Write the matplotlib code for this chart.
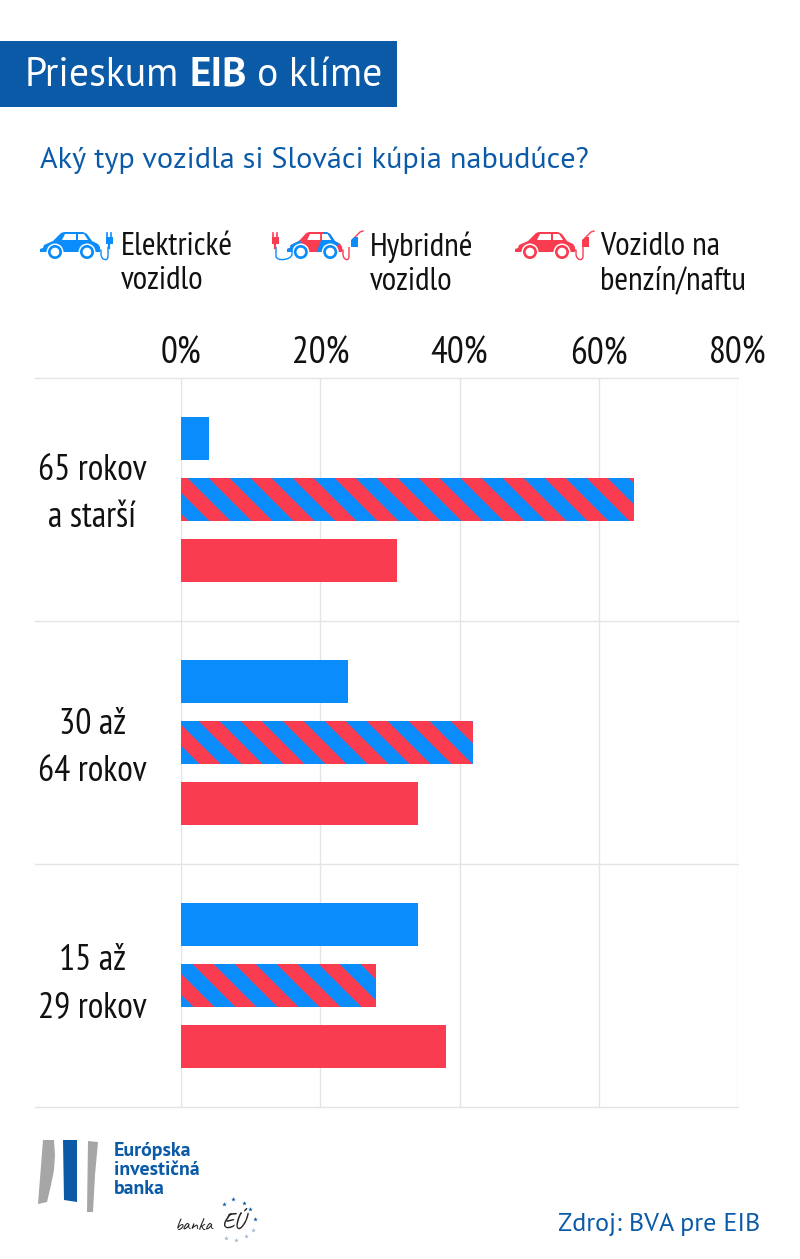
"""Prieskum EIB o klime: what type of car Slovaks will buy next, by age group."""
import matplotlib
matplotlib.use("Agg")
import matplotlib.pyplot as plt
from matplotlib import font_manager as fm
from matplotlib.patches import Circle, PathPatch, Polygon, Rectangle
from matplotlib.path import Path
from matplotlib.transforms import blended_transform_factory

W, H = 800, 1259
BLUE = "#0a8cfa"
RED = "#fa3c50"
EIB = "#0b5aa8"
GRID = "#e4e4e4"
INK = "#111111"

groups = ["65 rokov\na starší", "30 až\n64 rokov", "15 až\n29 rokov"]
electric = [4, 24, 34]
hybrid = [65, 42, 28]
petrol = [31, 34, 38]
ticks = [0, 20, 40, 60, 80]
tick_labels = ["0%", "20%", "40%", "60%", "80%"]
legend_labels = ["Elektrické\nvozidlo", "Hybridné\nvozidlo", "Vozidlo na\nbenzín/naftu"]

CAR = [(0, 252), (0, 249), (3, 248), (4, 245), (13, 241), (21, 233), (24, 232), (43, 232), (47, 234),
       (52, 241), (58, 244), (60, 247), (60, 252)]


def pick_fonts(*names):
    have = {f.name for f in fm.fontManager.ttflist}
    return [n for n in names if n in have] + ["DejaVu Sans"]


NARROW = pick_fonts("PT Sans Narrow", "Roboto Condensed", "Lato")
WIDE = pick_fonts("PT Sans", "Open Sans")
HAND = pick_fonts("Caveat", "Liberation Serif")


def draw_car(ov, x0, color, split=False, scale=1.0):
    pts = [(x0 + x * scale, y) for x, y in CAR]
    body = Polygon(pts, color=color, lw=0)
    ov.add_patch(body)
    if split:
        tail = Polygon([(x0, 256), (x0, 240), (x0 + 13, 240), (x0 + 18, 256)], color=BLUE, lw=0)
        front = Polygon([(x0 + 28, 256), (x0 + 38, 230), (x0 + 56, 240), (x0 + 40, 256)], color=BLUE, lw=0)
        for p in (tail, front):
            ov.add_patch(p)
            p.set_clip_path(body)
    ov.add_patch(Polygon([(x0 + 22 * scale, 240), (x0 + 25 * scale, 234), (x0 + 36 * scale, 234), (x0 + 36 * scale, 240)],
                         color="white", lw=0))
    ov.add_patch(Polygon([(x0 + 38 * scale, 240), (x0 + 38 * scale, 234), (x0 + 44 * scale, 234), (x0 + 48 * scale, 240)],
                         color="white", lw=0))
    for cx in (x0 + 15 * scale, x0 + 47 * scale):
        ov.add_patch(Circle((cx, 252), 8.5, color="white", lw=0))
        ov.add_patch(Circle((cx, 252), 7, color=BLUE if split else color, lw=0))
        ov.add_patch(Circle((cx, 252), 4.3, color="white", lw=0))


def draw_plug(ov, x, y, color):
    ov.add_patch(Rectangle((x - 3.5, y - 4), 7, 7, color=color, lw=0))
    ov.plot([x - 2, x - 2], [y - 8, y - 4], color=color, lw=1.2)
    ov.plot([x + 2, x + 2], [y - 8, y - 4], color=color, lw=1.2)
    ov.plot([x, x], [y + 3, y + 7], color=color, lw=1.6)


def draw_pump(ov, x, y, color):
    ov.add_patch(Polygon([(x - 3, y + 5), (x - 3, y - 2), (x, y - 5), (x + 4, y - 5), (x + 4, y + 5)], color=color, lw=0))
    ov.plot([x + 1, x + 6, x + 9], [y - 5, y - 10, y - 11], color=RED, lw=1)


def draw_cord(ov, x0, x1, y_top, color):
    verts = [(x0, 250), (x0 + 3, 250), (x0 + 3, 254), (x0 + 3, 260), (x1, 262), (x1, 256), (x1, y_top)]
    codes = [Path.MOVETO, Path.LINETO, Path.LINETO, Path.CURVE4, Path.CURVE4, Path.CURVE4, Path.LINETO]
    ov.add_patch(PathPatch(Path(verts, codes), fc="none", ec=color, lw=1))


def main():
    fig = plt.figure(figsize=(W / 100, H / 100), dpi=100, facecolor="white")
    ax = fig.add_axes([181 / W, 1 - 1107 / H, 557 / W, 729 / H])
    ov = fig.add_axes([0, 0, 1, 1], zorder=5)
    ov.set_xlim(0, W)
    ov.set_ylim(H, 0)
    ov.axis("off")

    y = list(range(len(groups)))
    bh, off = 0.181, 0.251
    ax.barh([v - off for v in y], electric, height=bh, color=BLUE, zorder=2)
    hybrid_bars = ax.barh(y, hybrid, height=bh, color=BLUE, zorder=2)
    ax.barh([v + off for v in y], petrol, height=bh, color=RED, zorder=2)

    ax.set_xlim(0, 80)
    ax.set_ylim(2.5, -0.5)
    for s in ax.spines.values():
        s.set_visible(False)
    ax.xaxis.tick_top()
    ax.set_xticks(ticks, tick_labels)
    # the age labels do not sit exactly on the group centres
    ax.set_yticks([v + d for v, d in zip(y, [-0.066, -0.02, -0.05])], groups)
    ax.tick_params(axis="x", length=0, pad=5, labelsize=27, labelcolor=INK)
    ax.tick_params(axis="y", length=0, pad=64, labelsize=25.8, labelcolor=INK)
    for lab in ax.get_xticklabels():
        lab.set_family(NARROW)
    for lab in ax.get_yticklabels():
        lab.set_family(NARROW)
        lab.set_ha("center")
        lab.set_multialignment("center")
        lab.set_linespacing(1.55)
    ax.set_axisbelow(True)
    ax.grid(axis="x", color=GRID, lw=1)

    # row separators run past the axes to the left
    tr = blended_transform_factory(ax.transAxes, ax.transData)
    for v in [-0.5, 0.5, 1.5, 2.5]:
        ax.plot([(35 - 181) / 557, 1], [v, v], transform=tr, color=GRID, lw=1, clip_on=False, zorder=1)

    # diagonal stripes on the hybrid bars, each bar has its own phase
    fig.canvas.draw()
    for bar, phase in zip(hybrid_bars, [-15, -25, -31]):
        ext = bar.get_window_extent()
        top = H - ext.y1
        bottom = H - ext.y0
        hgt = bottom - top
        x = ext.x0 + phase - 42
        while x < ext.x1:
            st = Polygon([(x, top), (x + 21, top), (x + 21 + hgt, bottom), (x + hgt, bottom)],
                         color=RED, lw=0, transform=ov.transData, zorder=3)
            ax.add_patch(st)
            st.set_clip_path(bar)
            x += 42

    # header
    ov.add_patch(Rectangle((0, 41), 397, 66, color=EIB, lw=0))
    ov.text(25, 75, "Prieskum", color="white", fontsize=28.5, family=WIDE, va="center")
    ov.text(190, 75, "EIB", color="white", fontsize=29.5, family=WIDE, weight="bold", va="center")
    ov.text(257, 75, "o klíme", color="white", fontsize=28.5, family=WIDE, va="center")
    ov.text(40, 160, "Aký typ vozidla si Slováci kúpia nabudúce?", color=EIB, fontsize=21.7, family=WIDE, va="center")

    # legend
    for x, lab in zip([121, 370, 600], legend_labels):
        ov.text(x, 264, lab, fontsize=23.8, family=NARROW, color=INK, va="center", linespacing=1.18)
    draw_car(ov, 40, BLUE)
    draw_cord(ov, 98, 108, 247, BLUE)
    draw_plug(ov, 109, 241, BLUE)
    draw_car(ov, 287, RED, split=True, scale=0.92)
    draw_cord(ov, 340, 349, 247, RED)
    draw_cord(ov, 289, 276, 247, BLUE)
    draw_plug(ov, 275, 241, RED)
    draw_pump(ov, 354, 242, BLUE)
    draw_car(ov, 515, RED)
    draw_cord(ov, 573, 583, 247, RED)
    draw_pump(ov, 585, 242, RED)

    # logo and source
    ov.add_patch(Polygon([(43, 1140), (54, 1140), (55, 1155), (54, 1170), (51, 1185), (47, 1202), (38, 1204)],
                         color="#a6a6a6", lw=0))
    ov.add_patch(Polygon([(63, 1140), (77, 1140), (77, 1202), (64, 1200)], color=EIB, lw=0))
    ov.add_patch(Polygon([(88, 1141), (98, 1142), (95, 1175), (93, 1212), (87, 1212)], color="#a6a6a6", lw=0))
    ov.text(114, 1170, "Európska\ninvestičná\nbanka", color=EIB, fontsize=14.3, family=WIDE, weight="bold",
            va="center", linespacing=1.1)
    ov.text(175, 1226, "banka", fontsize=13, family=HAND, color="#222222", va="center")
    ov.text(221, 1222, "EÚ", fontsize=17, family=HAND, color="#222222", va="center")
    stars = [(224, 1204), (233, 1199), (244, 1203), (250, 1209), (255, 1219), (253, 1230), (246, 1236), (236, 1240), (226, 1238)]
    ov.scatter([s[0] for s in stars[:5]], [s[1] for s in stars[:5]], marker="*", s=12, color=EIB, lw=0)
    ov.scatter([s[0] for s in stars[5:]], [s[1] for s in stars[5:]], marker="*", s=12, color="#9fb4cc", lw=0)
    ov.text(760, 1225, "Zdroj: BVA pre EIB", color=EIB, fontsize=18.8, family=WIDE, ha="right", va="center")

    fig.savefig("out.png", dpi=100)
    plt.close(fig)


if __name__ == "__main__":
    main()
